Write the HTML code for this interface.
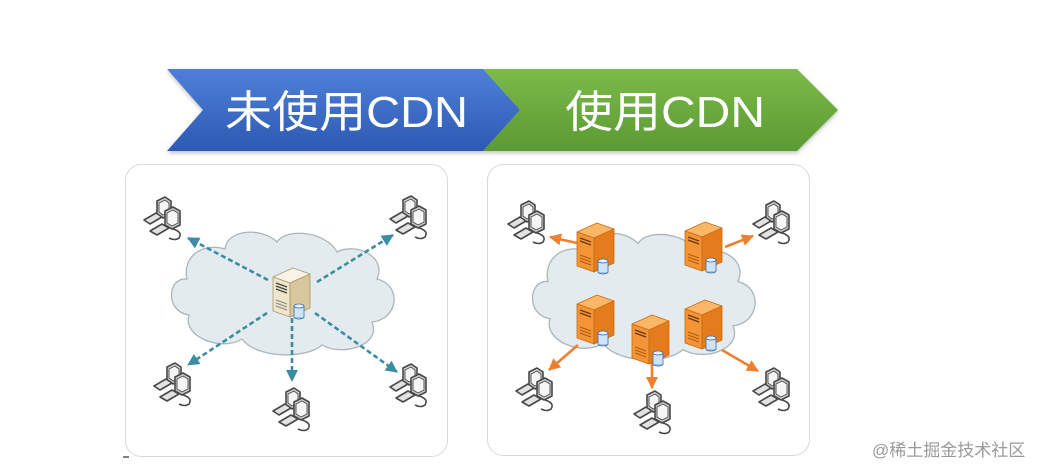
<!DOCTYPE html>
<html><head><meta charset="utf-8">
<style>
html,body{margin:0;padding:0;background:#fff;}
svg{display:block;}
</style></head>
<body>
<svg width="1048" height="476" viewBox="0 0 1048 476" xmlns="http://www.w3.org/2000/svg">
<defs>
  <linearGradient id="gb" x1="0" y1="0" x2="0" y2="1">
    <stop offset="0" stop-color="#4f80d8"/>
    <stop offset="1" stop-color="#2d59b2"/>
  </linearGradient>
  <linearGradient id="gg" x1="0" y1="0" x2="0" y2="1">
    <stop offset="0" stop-color="#7cba4a"/>
    <stop offset="1" stop-color="#5a9a32"/>
  </linearGradient>
  <filter id="sh" x="-5%" y="-10%" width="110%" height="130%">
    <feGaussianBlur in="SourceAlpha" stdDeviation="2"/>
    <feOffset dy="2"/>
    <feComponentTransfer><feFuncA type="linear" slope="0.25"/></feComponentTransfer>
    <feMerge><feMergeNode/><feMergeNode in="SourceGraphic"/></feMerge>
  </filter>
  <marker id="mt" markerUnits="userSpaceOnUse" markerWidth="14" markerHeight="12" refX="11" refY="6" orient="auto">
    <path d="M0,0 L12,6 L0,12 Z" fill="#3b8da6"/>
  </marker>
  <marker id="mo" markerUnits="userSpaceOnUse" markerWidth="14" markerHeight="12" refX="11" refY="6" orient="auto">
    <path d="M0,0 L12,6 L0,12 Z" fill="#ee8030"/>
  </marker>
  <path id="cloud" d="M20,52 C0,50 -2,85 22,88 C15,110 55,125 75,112 C90,132 140,132 155,118 C175,130 215,118 205,95 C232,92 235,58 210,52 C220,30 190,15 170,25 C160,5 120,0 110,15 C95,0 60,2 58,22 C35,15 15,30 20,52 Z"/>
  <g id="pc" stroke="#484848" stroke-width="1.6" stroke-linejoin="round">
    <path d="M14,5 L22,1 L28,5 L28,18 L20,22 L14,18 Z" fill="#d4d4d4"/>
    <path d="M16,7 L22,4 L26,7 L26,16 L20,19 L16,16 Z" fill="#f4f4f4" stroke-width="0.9"/>
    <path d="M1,24 L13,17 L19,21 L7,28 Z" fill="#e2e2e2"/>
    <path d="M22,15 L30,11 L37,15 L37,29 L29,33 L22,29 Z" fill="#cfcfcf"/>
    <path d="M24,17 L30,14 L35,17 L35,27 L29,30 L24,27 Z" fill="#f6f6f6" stroke-width="0.9"/>
    <path d="M7,35 L19,28 L26,32 L14,39 Z" fill="#e2e2e2"/>
    <path d="M30,33 Q40,36 36,42 Q32,45 26,42" fill="none"/>
  </g>
  <g id="srvB" stroke="#a89870" stroke-width="0.8" stroke-linejoin="round">
    <path d="M0,9 L20,0 L37,6 L17,15 Z" fill="#f8f3e6"/>
    <path d="M0,9 L17,15 L17,49 L0,43 Z" fill="#efe5c8"/>
    <path d="M17,15 L37,6 L37,40 L17,49 Z" fill="#d8c79c"/>
    <path d="M3,15 L14,19 M3,18 L14,22 M3,21 L14,25" stroke="#444" stroke-width="1.4"/>
    <path d="M3,32 L14,36 M3,35 L14,39 M3,38 L14,42" stroke="#888" stroke-width="1"/>
    <ellipse cx="26" cy="49" rx="5" ry="2" fill="#9fc3e8" stroke="#3a6ea8"/>
    <rect x="21" y="38" width="10" height="11" fill="#cfe2f6" stroke="none"/>
    <path d="M21,38 L21,49 M31,38 L31,49" stroke="#3a6ea8"/>
    <ellipse cx="26" cy="38" rx="5" ry="2" fill="#e8f2fc" stroke="#3a6ea8"/>
  </g>
  <g id="srvO" stroke="#c86a12" stroke-width="0.8" stroke-linejoin="round">
    <path d="M0,9 L20,0 L37,6 L17,15 Z" fill="#fbb768"/>
    <path d="M0,9 L17,15 L17,49 L0,43 Z" fill="#f39436"/>
    <path d="M17,15 L37,6 L37,40 L17,49 Z" fill="#e47c1e"/>
    <path d="M3,15 L14,19 M3,18 L14,22" stroke="#6a3a10" stroke-width="1.4"/>
    <path d="M3,32 L14,36 M3,35 L14,39 M3,38 L14,42" stroke="#b05a10" stroke-width="1"/>
    <ellipse cx="26" cy="49" rx="5" ry="2" fill="#9fc3e8" stroke="#3a6ea8"/>
    <rect x="21" y="38" width="10" height="11" fill="#cfe2f6" stroke="none"/>
    <path d="M21,38 L21,49 M31,38 L31,49" stroke="#3a6ea8"/>
    <ellipse cx="26" cy="38" rx="5" ry="2" fill="#e8f2fc" stroke="#3a6ea8"/>
  </g>
</defs>

<!-- banners -->
<g filter="url(#sh)">
  <polygon points="483,69 797,69 838,110 797,151 483,151 520,110" fill="url(#gg)"/>
  <polygon points="167,69 483,69 520,110 483,151 167,151 203,110" fill="url(#gb)"/>
</g>
<text x="225" y="127" font-family="Liberation Sans, Noto Sans CJK SC, sans-serif" font-size="44" fill="#fff" textLength="243" lengthAdjust="spacingAndGlyphs">未使用CDN</text>
<text x="565" y="127" font-family="Liberation Sans, Noto Sans CJK SC, sans-serif" font-size="44" fill="#fff" textLength="200" lengthAdjust="spacingAndGlyphs">使用CDN</text>

<!-- panels -->
<rect x="125.5" y="164.5" width="322" height="292" rx="16" fill="#fff" stroke="#d9d9d9"/>
<rect x="487.5" y="164.5" width="322" height="291" rx="16" fill="#fff" stroke="#d9d9d9"/>

<!-- left panel -->
<use href="#cloud" transform="translate(167,227)" fill="#e4ebee" stroke="#aab6bb" stroke-width="1.3"/>
<g stroke="#3b8da6" stroke-width="2.6" stroke-dasharray="5,3" fill="none">
  <line x1="268" y1="280" x2="188" y2="238" marker-end="url(#mt)"/>
  <line x1="317" y1="282" x2="393" y2="235" marker-end="url(#mt)"/>
  <line x1="267" y1="313" x2="188" y2="365" marker-end="url(#mt)"/>
  <line x1="292" y1="318" x2="292" y2="381" marker-end="url(#mt)"/>
  <line x1="315" y1="313" x2="397" y2="372" marker-end="url(#mt)"/>
</g>
<use href="#srvB" transform="translate(273,268)"/>
<use href="#pc" transform="translate(143,196)"/>
<use href="#pc" transform="translate(389,195)"/>
<use href="#pc" transform="translate(153,362)"/>
<use href="#pc" transform="translate(272,387)"/>
<use href="#pc" transform="translate(389,363)"/>

<!-- right panel -->
<use href="#cloud" transform="translate(528,228) scale(1,1.03)" fill="#e4ebee" stroke="#aab6bb" stroke-width="1.3"/>
<g stroke="#ee8030" stroke-width="2.6" fill="none">
  <line x1="577" y1="243" x2="550" y2="237" marker-end="url(#mo)"/>
  <line x1="725" y1="247" x2="753" y2="236" marker-end="url(#mo)"/>
  <line x1="578" y1="345" x2="549" y2="370" marker-end="url(#mo)"/>
  <line x1="652" y1="363" x2="652" y2="388" marker-end="url(#mo)"/>
  <line x1="722" y1="350" x2="758" y2="371" marker-end="url(#mo)"/>
</g>
<use href="#srvO" transform="translate(577,223)"/>
<use href="#srvO" transform="translate(685,222)"/>
<use href="#srvO" transform="translate(577,295)"/>
<use href="#srvO" transform="translate(685,300)"/>
<use href="#srvO" transform="translate(632,315)"/>
<use href="#pc" transform="translate(507,200)"/>
<use href="#pc" transform="translate(752,200)"/>
<use href="#pc" transform="translate(515,367)"/>
<use href="#pc" transform="translate(633,390)"/>
<use href="#pc" transform="translate(752,367)"/>

<line x1="123" y1="457" x2="129" y2="457" stroke="#555" stroke-width="1.5"/>

<text x="872" y="456" font-family="Liberation Sans, Noto Sans CJK SC, sans-serif" font-size="17" fill="#9a9a9a">@稀土掘金技术社区</text>
</svg>
</body></html>
